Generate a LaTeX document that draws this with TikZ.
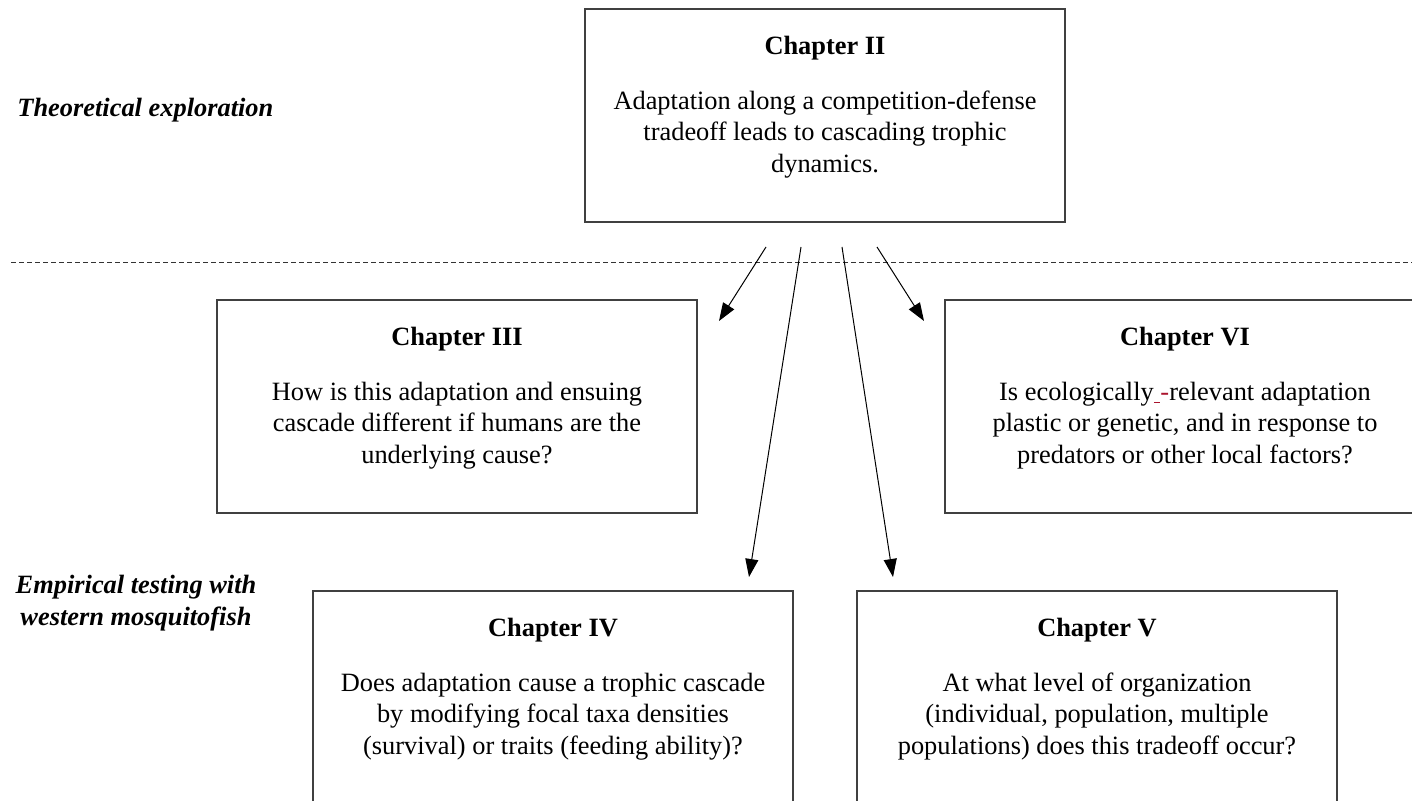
\documentclass[tikz,border=0pt]{standalone}
\usepackage{fontspec}
\setmainfont{Liberation Serif}
\usetikzlibrary{positioning,arrows.meta}
\definecolor{spellred}{RGB}{170,20,45}

\begin{document}
\begin{tikzpicture}[x=0.5pt, y=-0.5pt,
    chapbox/.style={draw=black!75, line width=0.9pt, rectangle, minimum width=240pt, minimum height=106.5pt, inner sep=0pt, outer sep=0pt},
    chaptext/.style={align=center, inner sep=0pt, outer sep=0pt, font=\fontsize{13.2pt}{15.8pt}\selectfont},
    sidelabel/.style={align=center, inner sep=0pt, font=\fontsize{13.2pt}{16.2pt}\selectfont\bfseries\itshape},
    arrowline/.style={-{Triangle[length=9pt,width=6.5pt]}, line width=0.5pt},
    divider/.style={draw=black!80, line width=0.5pt, dash pattern=on 2.5pt off 1.5pt}]
            \useasboundingbox (0,0) rectangle (1412,801);
            \clip (0,0) rectangle (1412,801);

            \node[sidelabel, anchor=base west] (theory) at (17,117) {Theoretical exploration};
            \node[sidelabel] (empirical) at (136,603) {Empirical testing with\\western mosquitofish};

            \node[chapbox] (ch2) at (825,115.5) {};
            \node[chaptext, below=13.5pt of ch2.north] (ch2txt) {\textbf{Chapter II}\\[11.7pt]Adaptation along a competition-defense\\tradeoff leads to cascading trophic\\dynamics.};

            \node[chapbox] (ch3) at (457,406.25) {};
            \node[chaptext, below=13.5pt of ch3.north] (ch3txt) {\textbf{Chapter III}\\[11.7pt]How is this adaptation and ensuing\\cascade different if humans are the\\underlying cause?};

            \node[chapbox] (ch6) at (1185,406.25) {};
            \node[chaptext, below=13.5pt of ch6.north] (ch6txt) {\textbf{Chapter VI}\\[11.7pt]Is ecologically{\color{spellred}\underline{\ }-}relevant adaptation\\plastic or genetic, and in response to\\predators or other local factors?};

            \node[chapbox] (ch4) at (553,697.5) {};
            \node[chaptext, below=13.5pt of ch4.north] (ch4txt) {\textbf{Chapter IV}\\[11.7pt]Does adaptation cause a trophic cascade\\by modifying focal taxa densities\\(survival) or traits (feeding ability)?};

            \node[chapbox] (ch5) at (1097,697.5) {};
            \node[chaptext, below=13.5pt of ch5.north] (ch5txt) {\textbf{Chapter V}\\[11.7pt]At what level of organization\\(individual, population, multiple\\populations) does this tradeoff occur?};

            \coordinate (divl) at (11,263);
            \coordinate (divr) at (1412,263);
            \draw[divider] (divl) -- (divr);

            \coordinate (s3) at (766,247);
            \coordinate (e3) at (719,321);
            \coordinate (s4) at (801,247);
            \coordinate (e4) at (749,577);
            \coordinate (s5) at (842,247);
            \coordinate (e5) at (893,577);
            \coordinate (s6) at (877,247);
            \coordinate (e6) at (924,321);
            \draw[arrowline] (s3) -- (e3);
            \draw[arrowline] (s4) -- (e4);
            \draw[arrowline] (s5) -- (e5);
            \draw[arrowline] (s6) -- (e6);
        \end{tikzpicture}
\end{document}
